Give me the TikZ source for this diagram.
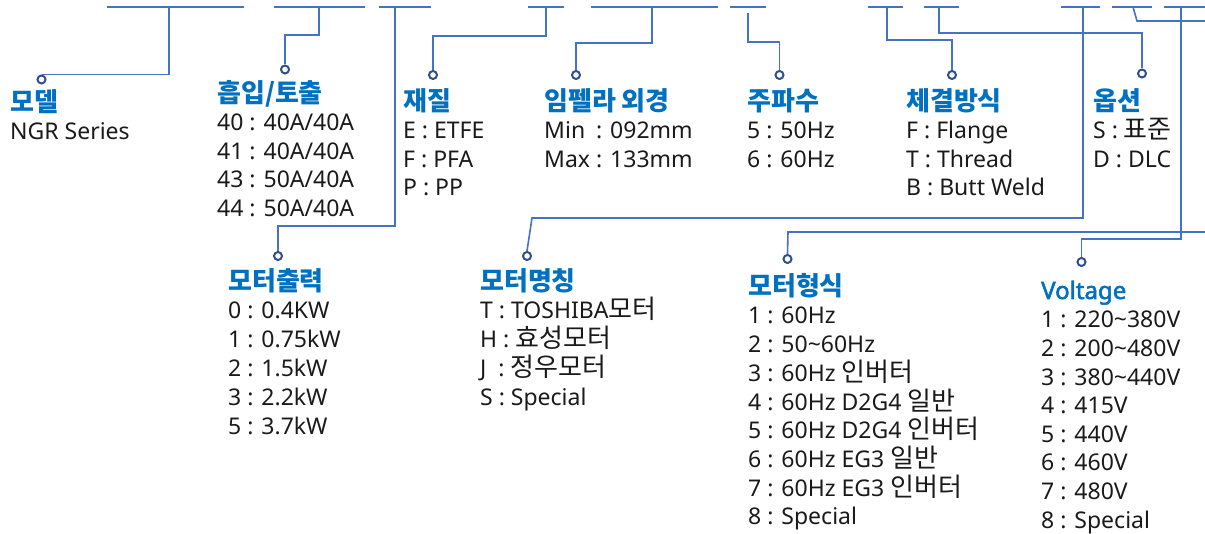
\documentclass[tikz,border=0pt]{standalone}
\usepackage{fontspec}
\setmainfont{Noto Sans}
\newfontfamily\kr[Scale=1.13]{Noto Sans CJK KR}
\newfontfamily\enbold[FakeBold=2.2]{Noto Sans}
\definecolor{linec}{HTML}{4472C4}
\definecolor{dotc}{HTML}{2F4F8F}
\definecolor{titlec}{HTML}{0070C0}
\definecolor{textc}{HTML}{1A1A1A}
\begin{document}
\begin{tikzpicture}[x=1pt,y=-1pt,
  bar/.style={linec, line width=2.6pt},
  conn/.style={linec, line width=1.6pt},
  dot/.style={circle, draw=dotc, fill=white, line width=2pt, minimum size=8pt, inner sep=0pt},
  ttl/.style={anchor=base west, inner sep=0pt, text=titlec, font=\kr\bfseries\fontsize{23}{23}\selectfont},
  ttlen/.style={anchor=base west, inner sep=0pt, text=titlec, font=\enbold\fontsize{24}{24}\selectfont},
  itm/.style={anchor=base west, inner sep=0pt, text=textc, font=\fontsize{23}{23}\selectfont}]
\useasboundingbox (0,0) rectangle (1205,534);

% top bars
\draw[bar] (107,7) -- (244,7);
\draw[bar] (274,7) -- (365,7);
\draw[bar] (379,7) -- (431,7);
\draw[bar] (528,7) -- (564,7);
\draw[bar] (591,7) -- (718,7);
\draw[bar] (730,7) -- (766,7);
\draw[bar] (868,7) -- (903,7);
\draw[bar] (924,7) -- (959,7);
\draw[bar] (1061,7) -- (1100,7);
\draw[bar] (1112,7) -- (1152,7);
\draw[bar] (1164,7) -- (1205,7);

\coordinate (t1) at (169,7);
\coordinate (t2) at (319,7);
\coordinate (t3) at (395,7);
\coordinate (t4) at (546,7);
\coordinate (t5) at (652,7);
\coordinate (t6) at (748,13);
\coordinate (t7) at (887,7);
\coordinate (t8) at (939,7);
\coordinate (t9) at (1083,7);
\coordinate (t10) at (1133,7);
\coordinate (t11) at (1181,7);
\coordinate (e10a) at (1205,21);
\coordinate (e10b) at (1205,232);

% dots
\node[dot] (d1) at (41.5,79.5) {};
\node[dot] (d2) at (285,69.5) {};
\node[dot] (d3) at (278,256) {};
\node[dot] (d4) at (433,75) {};
\node[dot] (d5) at (576,75) {};
\node[dot] (d6) at (779.5,75) {};
\node[dot] (d7) at (952,75) {};
\node[dot] (d8) at (1142,73.5) {};
\node[dot] (d9) at (527,256) {};
\node[dot] (d10) at (787.5,259) {};
\node[dot] (d11) at (1081.5,262) {};

% connectors
\draw[conn] (t1) |- (d1.north);
\draw[conn] (t2) -- (319,35) -| (d2.north);
\draw[conn] (t3) -- (395,226) -| (d3.north);
\draw[conn] (t4) -- (546,36) -| (d4.north);
\draw[conn] (t5) -- (652,43) -| (d5.north);
\draw[conn] (t6) -- (748,42) -| (d6.north);
\draw[conn] (t7) -- (887,40) -| (d7.north);
\draw[conn] (t8) -- (939,33) -| (d8.north);
\draw[conn] (t9) -- (1083,218) -- (532,218) -- (d9.north);
\draw[conn] (t10) -- (1137,21) -- (e10a);
\draw[conn] (e10b) -- (788,232) -- (d10.north);
\draw[conn] (t11) -- (1181,239) -| (d11.north);

% texts
\node[ttl] (A0) at (10,112) {모델};
\node[itm] (A1) at (10,140) {NGR Series};

\node[ttl] (B0) at (217,103) {흡입/토출};
\foreach \t [count=\i] in {40 : 40A/40A, 41 : 40A/40A, 43 : 50A/40A, 44 : 50A/40A}
  {\node[itm] (B\i) at (217,{131+28.5*(\i-1)}) {\t};}

\node[ttl] (C0) at (403,111) {재질};
\foreach \t [count=\i] in {E : ETFE, F : PFA, P : PP}
  {\node[itm] (C\i) at (403,{139+28.5*(\i-1)}) {\t};}

\node[ttl] (D0) at (544,111) {임펠라 외경};
\foreach \t [count=\i] in {\rlap{Min}\hphantom{Max} : 092mm, Max : 133mm}
  {\node[itm] (D\i) at (544,{139+28.5*(\i-1)}) {\t};}

\node[ttl] (E0) at (747,111) {주파수};
\foreach \t [count=\i] in {5 : 50Hz, 6 : 60Hz}
  {\node[itm] (E\i) at (747,{139+28.5*(\i-1)}) {\t};}

\node[ttl] (F0) at (906,111) {체결방식};
\foreach \t [count=\i] in {F : Flange, T : Thread, B : Butt Weld}
  {\node[itm] (F\i) at (906,{139+28.5*(\i-1)}) {\t};}

\node[ttl] (G0) at (1093,111) {옵션};
\foreach \t [count=\i] in {S : {\kr 표준}, D : DLC}
  {\node[itm] (G\i) at (1093,{139+28.5*(\i-1)}) {\t};}

\node[ttl] (H0) at (228,291) {모터출력};
\foreach \t [count=\i] in {0 : 0.4KW, 1 : 0.75kW, 2 : 1.5kW, 3 : 2.2kW, 5 : 3.7kW}
  {\node[itm] (H\i) at (228,{319+29*(\i-1)}) {\t};}

\node[ttl] (I0) at (480,291) {모터명칭};
\foreach \t [count=\i] in {T : TOSHIBA{\kr 모터}, H : {\kr 효성모터}, J\ \ : {\kr 정우모터}, S : Special}
  {\node[itm] (I\i) at (480,{319+29*(\i-1)}) {\t};}

\node[ttl] (J0) at (748,296) {모터형식};
\foreach \t [count=\i] in {1 : 60Hz, 2 : 50\textasciitilde60Hz, 3 : 60Hz {\kr 인버터}, 4 : 60Hz D2G4 {\kr 일반}, 5 : 60Hz D2G4 {\kr 인버터}, 6 : 60Hz EG3 {\kr 일반}, 7 : 60Hz EG3 {\kr 인버터}, 8 : Special}
  {\node[itm] (J\i) at (748,{324+28.7*(\i-1)}) {\t};}

\node[ttlen] (K0) at (1041,299) {Voltage};
\foreach \t [count=\i] in {1 : 220\textasciitilde380V, 2 : 200\textasciitilde480V, 3 : 380\textasciitilde440V, 4 : 415V, 5 : 440V, 6 : 460V, 7 : 480V, 8 : Special}
  {\node[itm] (K\i) at (1041,{328+28.6*(\i-1)}) {\t};}
\end{tikzpicture}
\end{document}
